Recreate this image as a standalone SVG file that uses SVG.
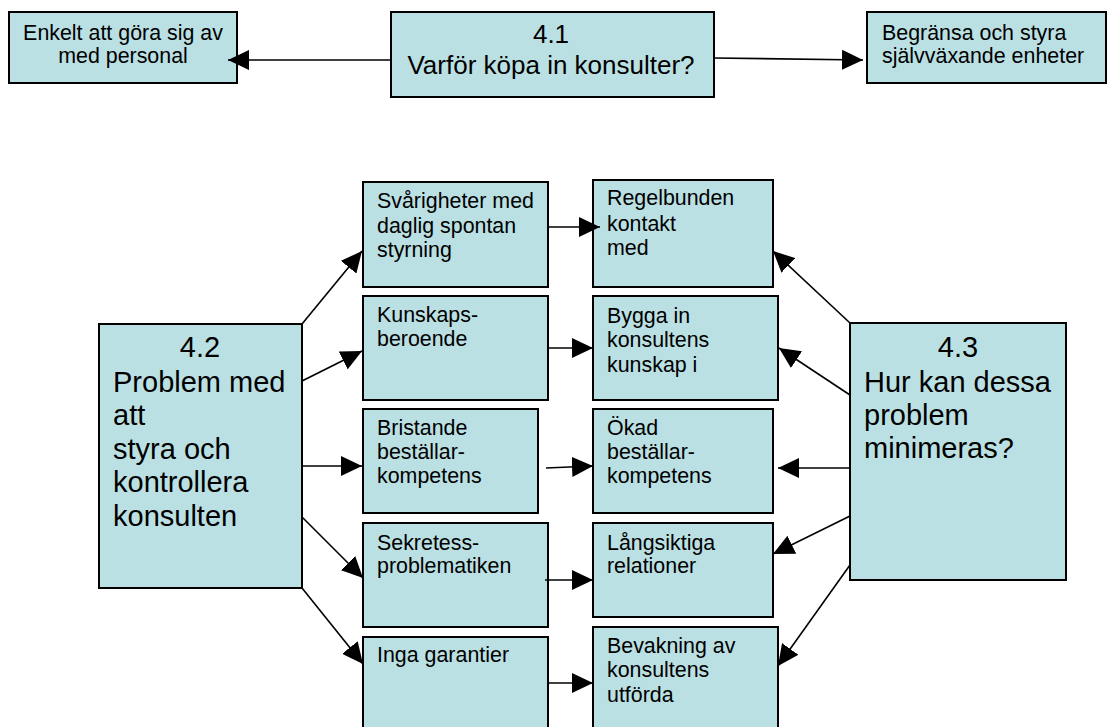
<svg xmlns="http://www.w3.org/2000/svg" width="1108" height="727" viewBox="0 0 1108 727">
<style>
.box{fill:#BBE0E3;stroke:#000;stroke-width:2}
text{font-family:"Liberation Sans",Arial,sans-serif;fill:#000}
.s{font-size:21.4px}
.m{font-size:26px}
.l{font-size:29px}
.c{text-anchor:middle}
.ln{stroke:#000;stroke-width:1.6;fill:none;marker-end:url(#ah)}
</style>
<defs>
<marker id="ah" markerUnits="userSpaceOnUse" markerWidth="21" markerHeight="20" refX="21" refY="10" orient="auto">
<path d="M0,0 L21,10 L0,20 Z" fill="#000"/>
</marker>
</defs>
<g id="n-enkelt"><rect class="box" x="9" y="12" width="228" height="71"/>
<text class="s c" x="123" y="40">Enkelt att göra sig av</text><text class="s c" x="123" y="63">med personal</text></g>
<g id="n-41"><rect class="box" x="391" y="12" width="323" height="85"/>
<text class="m c" x="551" y="43">4.1</text><text class="m c" x="551" y="74">Varför köpa in konsulter?</text></g>
<g id="n-begransa"><rect class="box" x="867" y="12" width="239" height="71"/>
<text class="s" x="882" y="40">Begränsa och styra</text><text class="s" x="882" y="63">självväxande enheter</text></g>
<g id="n-42"><rect class="box" x="99" y="324" width="203" height="264"/>
<text class="l c" x="200" y="357">4.2</text>
<text class="l" x="113" y="392">Problem med</text>
<text class="l" x="113" y="425">att</text>
<text class="l" x="113" y="459">styra och</text>
<text class="l" x="113" y="492">kontrollera</text>
<text class="l" x="113" y="526">konsulten</text></g>
<g id="n-43"><rect class="box" x="850" y="323" width="216" height="257"/>
<text class="l c" x="958" y="357">4.3</text>
<text class="l" x="864" y="392">Hur kan dessa</text>
<text class="l" x="864" y="425">problem</text>
<text class="l" x="864" y="458">minimeras?</text></g>
<g id="n-svar"><rect class="box" x="363" y="182" width="185" height="105"/>
<text class="s" x="377" y="208">Svårigheter med</text><text class="s" x="377" y="233">daglig spontan</text><text class="s" x="377" y="257">styrning</text></g>
<g id="n-kunskap"><rect class="box" x="363" y="296" width="185" height="104"/>
<text class="s" x="377" y="322">Kunskaps-</text><text class="s" x="377" y="346">beroende</text></g>
<g id="n-brist"><rect class="box" x="363" y="409" width="175" height="104"/>
<text class="s" x="377" y="435">Bristande</text><text class="s" x="377" y="459">beställar-</text><text class="s" x="377" y="483">kompetens</text></g>
<g id="n-sekretess"><rect class="box" x="363" y="523" width="185" height="104"/>
<text class="s" x="377" y="550">Sekretess-</text><text class="s" x="377" y="573">problematiken</text></g>
<g id="n-inga"><rect class="box" x="363" y="637" width="185" height="100"/>
<text class="s" x="377" y="662">Inga garantier</text></g>
<g id="n-regel"><rect class="box" x="593" y="180" width="180" height="107"/>
<text class="s" x="607" y="205">Regelbunden</text><text class="s" x="607" y="231">kontakt</text><text class="s" x="607" y="255">med</text></g>
<g id="n-bygga"><rect class="box" x="593" y="296" width="185" height="104"/>
<text class="s" x="607" y="323">Bygga in</text><text class="s" x="607" y="347">konsultens</text><text class="s" x="607" y="372">kunskap i</text></g>
<g id="n-okad"><rect class="box" x="593" y="409" width="180" height="104"/>
<text class="s" x="607" y="435">Ökad</text><text class="s" x="607" y="459">beställar-</text><text class="s" x="607" y="483">kompetens</text></g>
<g id="n-lang"><rect class="box" x="593" y="523" width="180" height="94"/>
<text class="s" x="607" y="550">Långsiktiga</text><text class="s" x="607" y="573">relationer</text></g>
<g id="n-bevak"><rect class="box" x="593" y="627" width="185" height="110"/>
<text class="s" x="607" y="653">Bevakning av</text><text class="s" x="607" y="677">konsultens</text><text class="s" x="607" y="702">utförda</text></g>
<g id="connectors">
<line class="ln" x1="391" y1="60" x2="228" y2="60"/>
<line class="ln" x1="714" y1="58" x2="863" y2="60"/>
<line class="ln" x1="302" y1="324" x2="362" y2="251"/>
<line class="ln" x1="302" y1="381" x2="362" y2="351"/>
<line class="ln" x1="302" y1="466" x2="362" y2="466"/>
<line class="ln" x1="302" y1="517" x2="363" y2="578"/>
<line class="ln" x1="302" y1="588" x2="363" y2="664"/>
<line class="ln" x1="548" y1="227" x2="600" y2="227"/>
<line class="ln" x1="548" y1="348" x2="593" y2="348"/>
<line class="ln" x1="546" y1="468" x2="593" y2="466"/>
<line class="ln" x1="545" y1="580" x2="593" y2="580"/>
<line class="ln" x1="548" y1="683" x2="593" y2="683"/>
<line class="ln" x1="850" y1="323" x2="773" y2="251"/>
<line class="ln" x1="850" y1="395" x2="779" y2="348"/>
<line class="ln" x1="850" y1="468" x2="778" y2="468"/>
<line class="ln" x1="850" y1="516" x2="773" y2="554"/>
<line class="ln" x1="850" y1="565" x2="778" y2="666"/>
</g>
</svg>
